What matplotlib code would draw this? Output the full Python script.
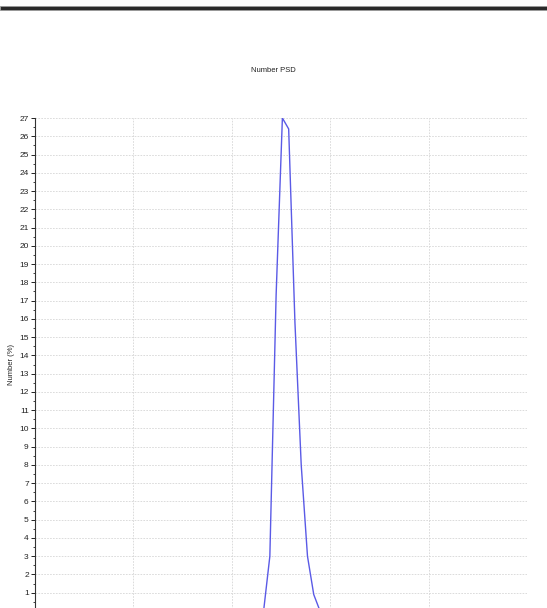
import numpy as np
import matplotlib.pyplot as plt
from matplotlib.patches import Rectangle
from matplotlib.ticker import MultipleLocator, NullLocator

plt.rcParams['font.family'] = ['Liberation Sans Narrow', 'Liberation Sans', 'DejaVu Sans']

# size classes (nm) and number distribution (%)
size_nm = [21.04, 24.36, 28.21, 32.67, 37.84, 43.82, 50.75, 58.77, 68.06, 78.82]
number_pct = [0.0, 3.0, 17.3, 27.0, 26.4, 15.8, 8.0, 3.0, 0.9, 0.0]

W, H = 547, 608
fig = plt.figure(figsize=(W / 100, H / 100), dpi=100)

# dark rule across the top of the window
fig.add_artist(Rectangle((0, 1 - 9.5 / H), 1, 3.5 / H, transform=fig.transFigure,
                         facecolor='#2a2a2a', edgecolor='#9a9a9a', linewidth=0.6))

ax = fig.add_axes([35 / W, 1 - 611 / H, (527 - 35) / W, (611 - 118) / H])
ax.plot(size_nm, number_pct, color='#5a5ae6', linewidth=1.0)

ax.set_xscale('log')
ax.set_xlim(0.1, 10000)
ax.set_ylim(0, 27)
ax.xaxis.set_minor_locator(NullLocator())
ax.yaxis.set_major_locator(MultipleLocator(1))
ax.yaxis.set_minor_locator(MultipleLocator(0.5))

ax.grid(True, which='major', color='#d6d6d6', linestyle=(0, (2, 1.5)), linewidth=0.6)
for s in ['top', 'right', 'bottom']:
    ax.spines[s].set_visible(False)
ax.spines['left'].set_color('#333333')
ax.spines['left'].set_linewidth(0.8)

ax.tick_params(axis='y', which='major', length=3, width=0.7, labelsize=6, pad=1.5, colors='#222222')
ax.tick_params(axis='y', which='minor', length=1.5, width=0.6, colors='#222222')
# x labels fall below the visible window
ax.tick_params(axis='x', which='both', length=0, labelbottom=False)

ax.set_ylabel('Number (%)', fontsize=5.5, labelpad=3, color='#222222')
fig.text(0.5, 1 - 71 / H, 'Number PSD', ha='center', va='center', fontsize=5.5, color='#222222')

fig.savefig('out.png', dpi=100)
